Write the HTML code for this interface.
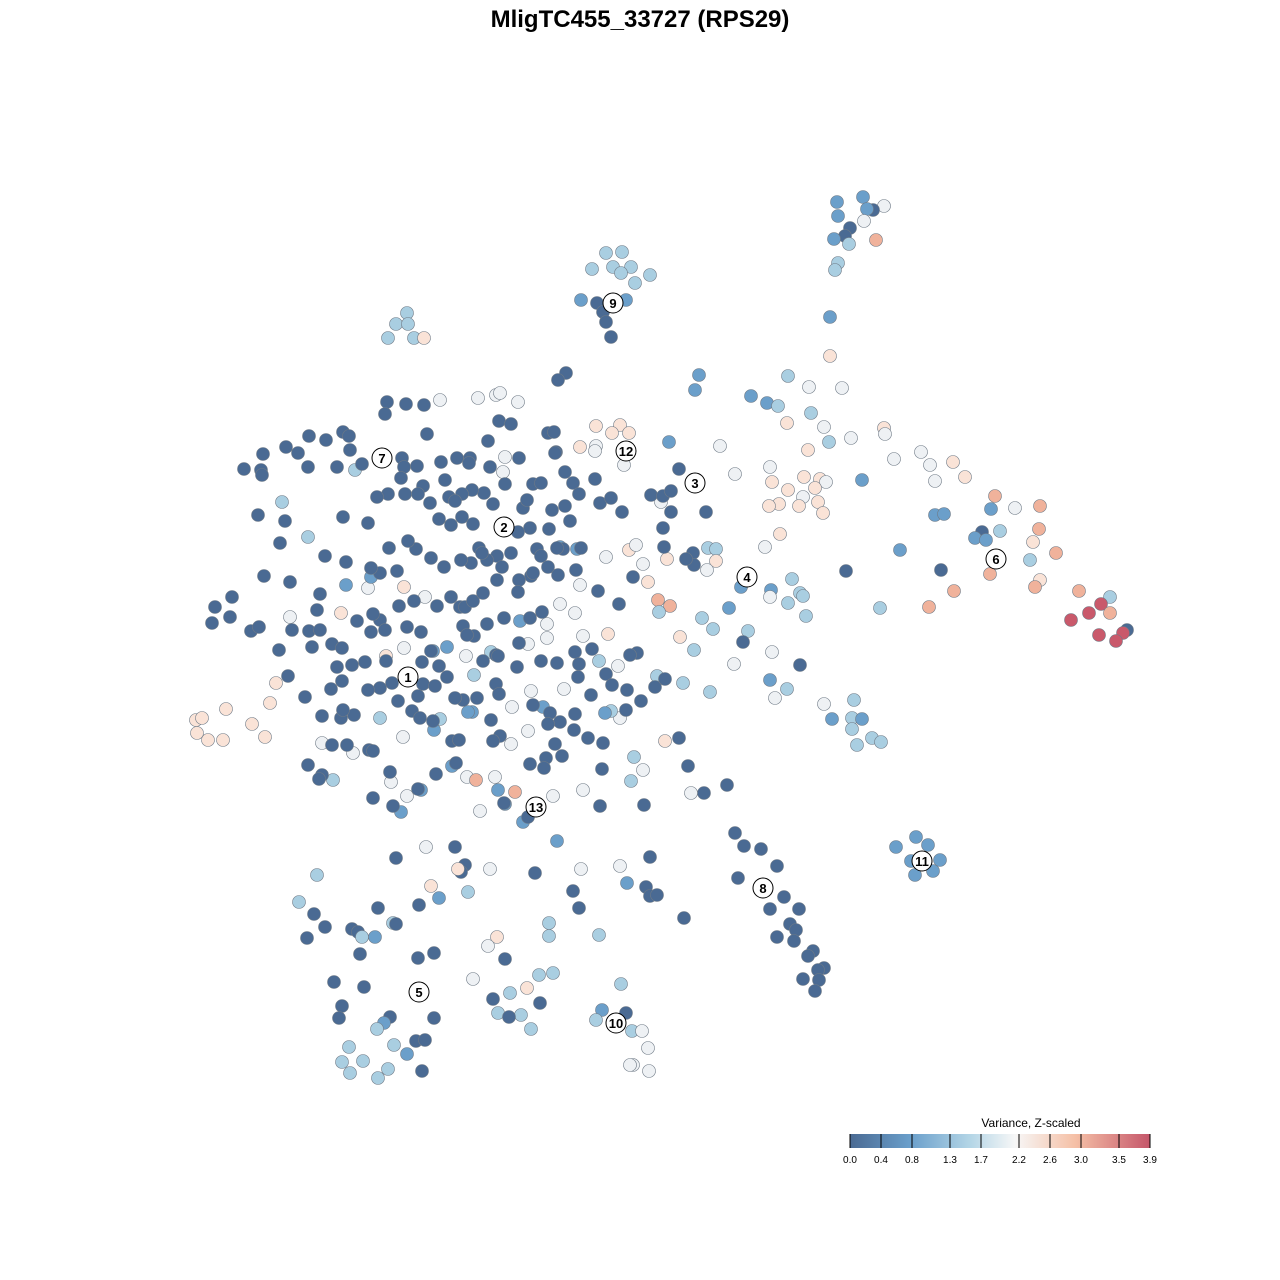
<!DOCTYPE html>
<html><head><meta charset="utf-8"><style>
html,body{margin:0;padding:0;background:#fff;width:1280px;height:1280px;overflow:hidden}
svg{display:block}
</style></head><body>
<svg id="s" width="1280" height="1280" xmlns="http://www.w3.org/2000/svg" font-family="Liberation Sans, sans-serif">
<defs><linearGradient id="g" x1="0" x2="1"><stop offset="0" stop-color="#4a6a93"/><stop offset="0.2" stop-color="#6a9fcb"/><stop offset="0.4" stop-color="#b3d5e6"/><stop offset="0.55" stop-color="#f7f7f7"/><stop offset="0.75" stop-color="#f5c0a6"/><stop offset="1" stop-color="#c5566a"/></linearGradient></defs>
<text x="640" y="27" text-anchor="middle" font-size="24" font-weight="bold">MligTC455_33727 (RPS29)</text>
<g id="pts"></g><g id="lab"></g>
<text x="1031" y="1127" text-anchor="middle" font-size="12">Variance, Z-scaled</text>
<rect x="850" y="1134" width="300" height="14" fill="url(#g)"/>
<g id="ticks" font-size="10"></g>
</svg>
<script>
var C={d:"#4a6a93",m:"#6b9fca",l:"#a9cee1",w:"#eef1f4",p:"#fae3d7",o:"#f0b29b",r:"#c9596b"};
var D="863,197,m;837,202,m;884,206,w;873,210,d;867,209,m;838,216,m;864,221,w;850,228,d;845,236,d;834,239,m;849,244,l;876,240,o;838,263,l;835,270,l;830,317,m;830,356,p;606,253,l;622,252,l;613,267,l;592,269,l;631,267,l;621,273,l;650,275,l;635,283,l;581,300,m;597,303,d;626,300,m;603,312,d;606,322,d;611,337,d;407,313,l;396,324,l;408,324,l;388,338,l;414,338,l;424,338,p;566,373,d;558,380,d;699,375,m;695,390,m;788,376,l;809,387,w;842,388,w;751,396,m;767,403,m;778,406,l;811,413,l;787,423,p;824,427,w;884,428,p;885,434,w;851,438,w;829,442,l;669,442,m;720,446,w;808,450,p;921,452,w;894,459,w;930,465,w;953,462,p;735,474,w;770,467,w;679,469,d;804,477,p;820,479,p;826,482,w;772,482,p;788,490,p;815,488,p;965,477,p;935,481,w;862,480,m;803,497,w;779,504,p;769,506,p;799,506,p;818,502,p;823,513,p;995,496,o;1040,506,o;1015,508,w;991,509,m;935,515,m;944,514,m;1039,529,o;1000,531,l;982,532,d;975,538,m;986,540,m;780,534,p;765,547,w;900,550,m;1056,553,o;1030,560,l;1033,542,p;941,570,d;846,571,d;990,574,o;1040,580,p;1035,587,o;954,591,o;1079,591,o;1110,597,l;1101,604,r;1089,613,r;1110,613,o;1071,620,r;1127,630,d;1123,633,r;1099,635,r;1116,641,r;929,607,o;880,608,l;693,553,d;708,548,l;716,549,l;694,565,d;716,561,p;707,570,w;771,590,m;792,579,l;788,603,l;800,593,l;803,596,l;806,616,l;770,597,w;741,587,m;729,608,m;702,618,l;713,629,l;748,631,l;743,642,d;680,637,p;694,650,l;772,652,w;734,664,w;800,665,d;770,680,m;787,689,l;775,698,w;710,692,l;683,683,l;657,676,l;824,704,w;854,700,l;852,718,l;862,719,m;832,719,m;852,729,l;872,738,l;881,742,l;857,745,l;665,741,p;679,738,d;688,766,d;727,785,d;704,793,d;691,793,w;735,833,d;744,846,d;761,849,d;777,866,d;738,878,d;784,897,d;770,909,d;799,909,d;790,924,d;777,937,d;796,930,d;794,941,d;813,951,d;808,956,d;824,968,d;818,970,d;819,980,d;803,979,d;815,991,d;916,837,m;896,847,m;928,845,m;911,861,m;940,860,m;933,871,m;915,875,m;596,426,p;620,425,p;612,433,p;629,433,p;580,447,p;596,446,w;624,465,w;556,452,d;548,433,d;554,432,d;595,451,w;196,720,p;202,718,p;197,733,p;208,740,p;223,740,p;226,709,p;252,724,p;270,703,p;265,737,p;276,683,p;290,617,w;341,613,p;368,588,w;386,656,p;404,587,p;425,597,w;404,648,w;403,737,w;322,743,w;353,753,w;391,782,w;407,796,w;467,777,w;476,780,o;495,777,w;515,792,o;553,796,w;583,790,w;480,811,w;511,744,w;528,731,w;531,691,w;564,689,w;512,707,w;466,656,w;491,652,l;528,644,w;547,638,w;583,636,w;608,634,p;560,604,w;575,613,w;547,624,w;580,585,w;606,557,w;629,550,p;636,545,w;661,502,w;643,564,w;648,582,p;667,559,p;658,600,o;670,606,o;659,612,l;599,661,l;618,666,w;620,718,w;611,711,l;605,713,m;626,710,d;634,757,l;631,781,l;643,770,w;474,675,l;472,712,m;380,718,l;440,719,l;434,730,m;333,780,l;355,470,l;308,537,l;282,502,l;346,585,m;371,577,m;440,400,w;478,398,w;496,395,w;500,393,w;518,402,w;505,457,w;503,472,w;447,647,m;433,651,m;468,712,m;543,707,m;520,621,m;498,790,m;523,822,m;505,804,m;401,812,m;560,547,m;577,549,m;452,766,m;421,790,m;396,858,d;426,847,w;455,847,d;465,865,d;461,872,d;458,869,p;490,869,w;431,886,p;439,898,m;419,905,d;468,892,l;535,873,d;581,869,w;620,866,w;650,857,d;557,841,m;627,883,m;646,887,d;650,896,d;657,895,d;573,891,d;579,908,d;684,918,d;317,875,l;299,902,l;314,914,d;378,908,d;307,938,d;325,927,d;352,929,d;358,932,d;362,937,l;375,937,m;393,923,l;396,924,d;360,954,d;549,923,l;549,936,l;599,935,l;497,937,p;488,946,w;418,958,d;434,953,d;505,959,d;473,979,w;527,988,p;539,975,l;553,973,l;334,982,d;364,987,d;510,993,l;493,999,d;540,1003,d;521,1015,l;498,1013,l;509,1017,d;531,1029,l;621,984,l;602,1010,m;626,1013,d;596,1020,l;632,1031,l;642,1031,w;648,1048,w;633,1065,w;630,1065,w;649,1071,w;342,1006,d;339,1018,d;434,1018,d;390,1017,d;384,1023,m;377,1029,l;394,1045,l;416,1041,d;425,1040,d;407,1054,m;349,1047,l;342,1062,l;363,1061,l;388,1069,l;350,1073,l;378,1078,l;422,1071,d";
var dk="387,402;406,404;424,405;385,414;499,421;511,424;427,434;488,441;343,432;349,436;326,440;309,436;286,447;298,453;263,454;350,450;244,469;261,470;262,475;308,467;337,467;362,464;402,458;417,466;404,467;470,458;457,458;441,462;469,463;490,467;519,458;555,453;565,472;573,483;579,494;595,479;600,503;611,498;651,495;663,496;671,491;671,512;706,512;663,528;533,484;541,483;505,484;484,493;472,490;462,494;449,497;423,486;445,480;401,478;388,494;377,497;405,494;418,494;430,503;455,501;462,517;451,525;439,519;473,524;493,504;523,508;527,500;552,510;570,521;549,529;530,528;518,532;537,549;541,556;563,549;581,548;557,548;548,567;531,576;519,580;511,553;497,556;487,560;479,548;482,553;471,563;461,560;444,567;431,558;416,549;408,541;389,548;397,571;380,573;371,568;368,523;343,517;325,556;280,543;264,576;290,582;320,594;346,562;258,515;285,521;232,597;215,607;230,617;212,623;251,631;259,627;292,630;317,610;309,631;320,630;279,650;312,647;332,644;342,648;357,621;380,620;371,632;399,606;414,601;437,606;451,597;460,607;465,607;473,601;483,593;497,580;502,567;518,592;533,573;558,575;576,570;598,591;619,604;633,577;637,653;630,655;606,674;592,649;575,652;579,664;557,663;541,661;517,667;496,655;498,656;483,661;474,636;463,626;431,651;421,632;407,627;385,630;373,614;352,665;337,667;342,681;331,689;305,697;288,676;365,662;386,661;380,688;392,683;398,701;423,684;435,686;447,677;439,666;422,662;463,700;496,684;499,694;477,698;491,720;455,698;412,711;420,718;433,721;418,696;368,690;354,715;341,718;343,710;322,716;332,745;347,745;369,750;373,751;390,772;308,765;322,775;319,779;373,798;393,806;436,774;418,789;452,741;459,740;456,763;500,736;493,741;530,764;546,758;544,768;555,744;560,722;574,730;575,714;588,738;603,743;591,695;578,677;612,685;602,769;600,806;644,805;627,690;641,701;655,687;665,679;686,559;664,547;622,512;565,506;530,618;542,612;519,643;467,635;504,618;487,624;533,705;550,713;504,803;528,817;562,756;548,724;611,302";
dk.split(";").forEach(function(s){D+=";"+s+",d";});
var ns="http://www.w3.org/2000/svg",g=document.getElementById("pts");
D.split(";").forEach(function(s){var a=s.split(",");var c=document.createElementNS(ns,"circle");c.setAttribute("cx",a[0]);c.setAttribute("cy",a[1]);c.setAttribute("r","6.5");c.setAttribute("fill",C[a[2]]);c.setAttribute("stroke","#6f7a86");c.setAttribute("stroke-width","0.6");g.appendChild(c);});
var L=[[1,408,677],[2,504,527],[3,695,483],[4,747,577],[5,419,992],[6,996,559],[7,382,458],[8,763,888],[9,613,303],[10,616,1023],[11,922,861],[12,626,451],[13,536,807]],lg=document.getElementById("lab");
L.forEach(function(a){var c=document.createElementNS(ns,"circle");c.setAttribute("cx",a[1]);c.setAttribute("cy",a[2]);c.setAttribute("r","10");c.setAttribute("fill","#fff");c.setAttribute("stroke","#000");lg.appendChild(c);var t=document.createElementNS(ns,"text");t.setAttribute("x",a[1]);t.setAttribute("y",a[2]+5);t.setAttribute("text-anchor","middle");t.setAttribute("font-size","13");t.setAttribute("font-weight","bold");t.textContent=a[0];lg.appendChild(t);});
var T=[[850,"0.0"],[881,"0.4"],[912,"0.8"],[950,"1.3"],[981,"1.7"],[1019,"2.2"],[1050,"2.6"],[1081,"3.0"],[1119,"3.5"],[1150,"3.9"]],tg=document.getElementById("ticks");
T.forEach(function(a){var l=document.createElementNS(ns,"line");l.setAttribute("x1",a[0]);l.setAttribute("x2",a[0]);l.setAttribute("y1",1134);l.setAttribute("y2",1148);l.setAttribute("stroke","#000");tg.appendChild(l);var t=document.createElementNS(ns,"text");t.setAttribute("x",a[0]);t.setAttribute("y",1163);t.setAttribute("text-anchor","middle");t.textContent=a[1];tg.appendChild(t);});
</script>
</body></html>
